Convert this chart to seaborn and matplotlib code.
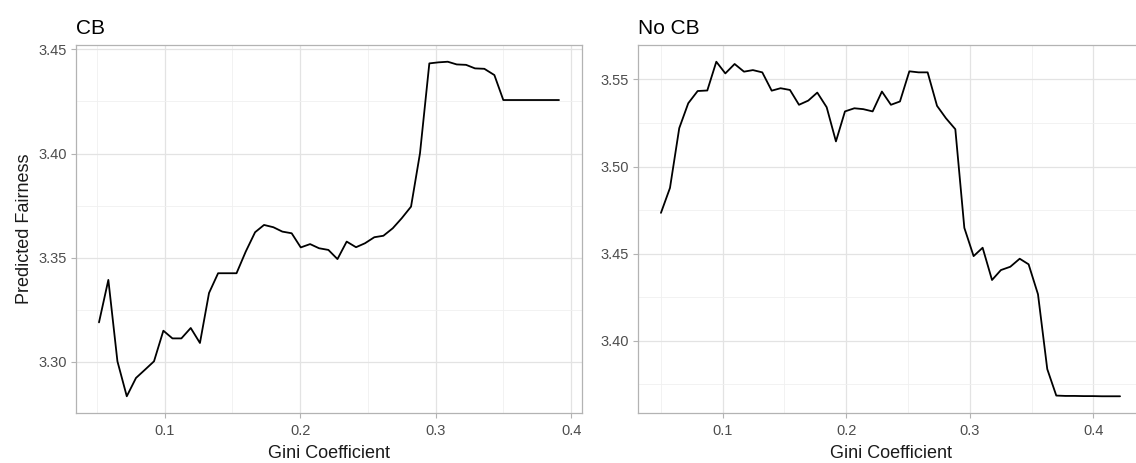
import matplotlib
matplotlib.use("Agg")
import matplotlib.pyplot as plt
import seaborn as sns
import pandas as pd
import numpy as np
from matplotlib.ticker import MultipleLocator

# ---- data ----
cb_gini = [0.0515, 0.0584, 0.0651, 0.0720, 0.0788, 0.0855, 0.0921, 0.0990, 0.1057, 0.1123,
           0.1192, 0.1260, 0.1327, 0.1394, 0.1462, 0.1530, 0.1598, 0.1667, 0.1733, 0.1802,
           0.1868, 0.1937, 0.2004, 0.2073, 0.2139, 0.2208, 0.2275, 0.2343, 0.2412, 0.2478,
           0.2547, 0.2614, 0.2683, 0.2749, 0.2818, 0.2884, 0.2953, 0.3020, 0.3089, 0.3155,
           0.3224, 0.3290, 0.3359, 0.3433, 0.3499, 0.3567, 0.3635, 0.3703, 0.3771, 0.3839,
           0.3910]
cb_fair = [3.3189, 3.3393, 3.3002, 3.2834, 3.2922, 3.2962, 3.3002, 3.3149, 3.3112, 3.3112,
           3.3162, 3.3090, 3.3330, 3.3425, 3.3425, 3.3425, 3.3529, 3.3622, 3.3657, 3.3646,
           3.3625, 3.3617, 3.3549, 3.3565, 3.3545, 3.3537, 3.3493, 3.3577, 3.3550, 3.3569,
           3.3598, 3.3605, 3.3641, 3.3689, 3.3745, 3.4001, 3.4433, 3.4438, 3.4441, 3.4428,
           3.4426, 3.4409, 3.4407, 3.4377, 3.4257, 3.4257, 3.4257, 3.4257, 3.4257, 3.4257,
           3.4257]

nocb_gini = [0.0501, 0.0574, 0.0649, 0.0722, 0.0798, 0.0876, 0.0949, 0.1022, 0.1097, 0.1173,
             0.1245, 0.1321, 0.1397, 0.1469, 0.1545, 0.1618, 0.1693, 0.1766, 0.1842, 0.1917,
             0.1990, 0.2066, 0.2138, 0.2214, 0.2289, 0.2362, 0.2435, 0.2511, 0.2586, 0.2659,
             0.2735, 0.2807, 0.2883, 0.2956, 0.3031, 0.3104, 0.3180, 0.3252, 0.3328, 0.3404,
             0.3476, 0.3552, 0.3627, 0.3700, 0.3774, 0.3848, 0.3922, 0.3996, 0.4070, 0.4143,
             0.4216]
nocb_fair = [3.4734, 3.4877, 3.5220, 3.5363, 3.5433, 3.5436, 3.5601, 3.5534, 3.5588, 3.5544,
             3.5553, 3.5540, 3.5435, 3.5449, 3.5439, 3.5354, 3.5378, 3.5424, 3.5340, 3.5144,
             3.5316, 3.5334, 3.5329, 3.5316, 3.5430, 3.5354, 3.5373, 3.5546, 3.5540, 3.5540,
             3.5348, 3.5277, 3.5214, 3.4648, 3.4486, 3.4534, 3.4349, 3.4406, 3.4425, 3.4471,
             3.4439, 3.4267, 3.3838, 3.3686, 3.3684, 3.3684, 3.3683, 3.3683, 3.3682, 3.3682,
             3.3682]

panel_titles = ["CB", "No CB"]
x_label = "Gini Coefficient"
y_label = "Predicted Fairness"

sns.set_theme(style="white")
plt.rcParams["font.family"] = ["Liberation Sans", "DejaVu Sans"]

W, H = 1136, 463
fig = plt.figure(figsize=(W / 100, H / 100), dpi=100)

def px_axes(l, t, r, b):
    return fig.add_axes([l / W, 1 - b / H, (r - l) / W, (b - t) / H])

ax1 = px_axes(76, 45, 582, 413)
ax2 = px_axes(638, 45, 1143, 413)

datasets = [(ax1, cb_gini, cb_fair), (ax2, nocb_gini, nocb_fair)]

for i, (ax, gx, gy) in enumerate(datasets):
    df = pd.DataFrame({"gini": gx, "fair": gy})
    sns.lineplot(data=df, x="gini", y="fair", ax=ax, color="black", linewidth=1.3)
    xr = max(gx) - min(gx)
    yr = max(gy) - min(gy)
    ax.set_xlim(min(gx) - 0.05 * xr, max(gx) + 0.05 * xr)
    ax.set_ylim(min(gy) - 0.05 * yr, max(gy) + 0.05 * yr)
    ax.xaxis.set_major_locator(MultipleLocator(0.1))
    ax.xaxis.set_minor_locator(MultipleLocator(0.05))
    ax.yaxis.set_major_locator(MultipleLocator(0.05))
    ax.yaxis.set_minor_locator(MultipleLocator(0.025))
    ax.grid(True, which="major", color="#E3E3E3", linewidth=0.9)
    ax.grid(True, which="minor", color="#F0F0F0", linewidth=0.6)
    ax.set_axisbelow(True)
    for s in ax.spines.values():
        s.set_color("#B3B3B3")
        s.set_linewidth(0.9)
    ax.tick_params(axis="both", which="major", length=3.5, width=0.8, color="#B3B3B3",
                   labelsize=10.5, labelcolor="#4D4D4D", pad=3, bottom=True, left=True)
    ax.tick_params(axis="x", which="major", pad=4.5)
    ax.tick_params(axis="both", which="minor", length=0)
    ax.set_xticklabels([f"{t:.1f}" for t in ax.get_xticks()])
    ax.set_yticklabels([f"{t:.2f}" for t in ax.get_yticks()])
    ax.set_xlabel(x_label, fontsize=13, color="#1A1A1A", labelpad=5)
    ax.set_ylabel(y_label if i == 0 else "", fontsize=13, color="#1A1A1A", labelpad=4)
    ax.set_title(panel_titles[i], loc="left", fontsize=15, color="#000000", pad=8)

fig.savefig("out.png", dpi=100, facecolor="white")
